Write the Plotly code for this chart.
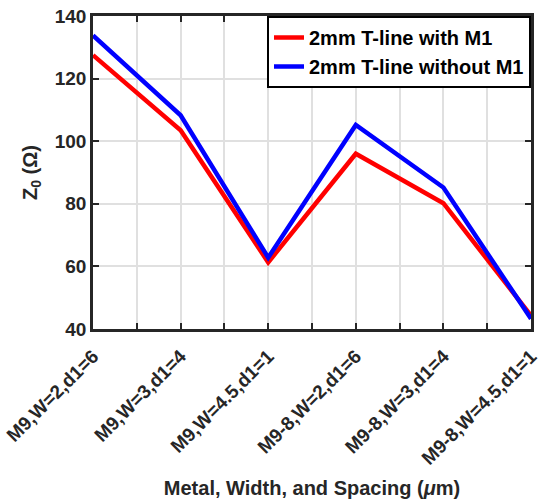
import plotly.graph_objects as go

categories = ["M9,W=2,d1=6", "M9,W=3,d1=4", "M9,W=4.5,d1=1",
              "M9-8,W=2,d1=6", "M9-8,W=3,d1=4", "M9-8,W=4.5,d1=1"]
with_m1 = [127.5, 103.5, 61.3, 96.0, 80.2, 44.3]
without_m1 = [133.8, 108.3, 62.8, 105.2, 85.2, 43.3]
series_names = ["2mm T-line with M1", "2mm T-line without M1"]
y_ticks = [40, 60, 80, 100, 120, 140]

x = list(range(1, len(categories) + 1))
tickvals = []
ticktext = []
for i, c in enumerate(categories):
    tickvals.append(i + 1)
    ticktext.append(c)
    if i < len(categories) - 1:
        tickvals.append(i + 1.5)
        ticktext.append("")

font_family = "Liberation Sans, Arial, sans-serif"
axis_color = "#262626"

fig = go.Figure()
fig.add_trace(go.Scatter(x=x, y=with_m1, mode="lines", name=series_names[0],
                         line=dict(color="#ff0000", width=4.5)))
fig.add_trace(go.Scatter(x=x, y=without_m1, mode="lines", name=series_names[1],
                         line=dict(color="#0000ff", width=4.5)))

fig.update_layout(
    width=543, height=499,
    margin=dict(l=93, r=12, t=16, b=170),
    plot_bgcolor="white", paper_bgcolor="white",
    font=dict(family=font_family, color=axis_color, size=19),
    legend=dict(x=1, xanchor="right", y=1, yanchor="top",
                bordercolor="#000000", borderwidth=2, bgcolor="white",
                font=dict(size=20, family=font_family, color="#000000", weight="bold"),
                itemwidth=30, tracegroupgap=0),
)
fig.update_xaxes(
    range=[1, 6], tickmode="array", tickvals=tickvals, ticktext=ticktext,
    tickangle=-45, ticks="inside", ticklen=6, tickwidth=2, tickcolor=axis_color,
    showline=True, linewidth=2.5, linecolor=axis_color, mirror="ticks",
    showgrid=True, gridcolor="#e0e0e0", gridwidth=2, zeroline=False,
    automargin=False, ticklabelstandoff=6,
    tickfont=dict(size=19, weight="bold"),
    title=dict(text="Metal, Width, and Spacing (<i>μ</i>m)",
               font=dict(size=20, weight="bold"), standoff=16),
)
fig.update_yaxes(
    range=[40, 140], tickvals=y_ticks,
    ticks="inside", ticklen=6, tickwidth=2, tickcolor=axis_color,
    showline=True, linewidth=2.5, linecolor=axis_color, mirror="ticks",
    showgrid=True, gridcolor="#e0e0e0", gridwidth=2, zeroline=False,
    automargin=False,
    tickfont=dict(size=19, weight="bold"),
    title=dict(text="Z<sub>0</sub> (Ω)", font=dict(size=20, weight="bold"), standoff=12),
)

fig.write_html("out.html")
